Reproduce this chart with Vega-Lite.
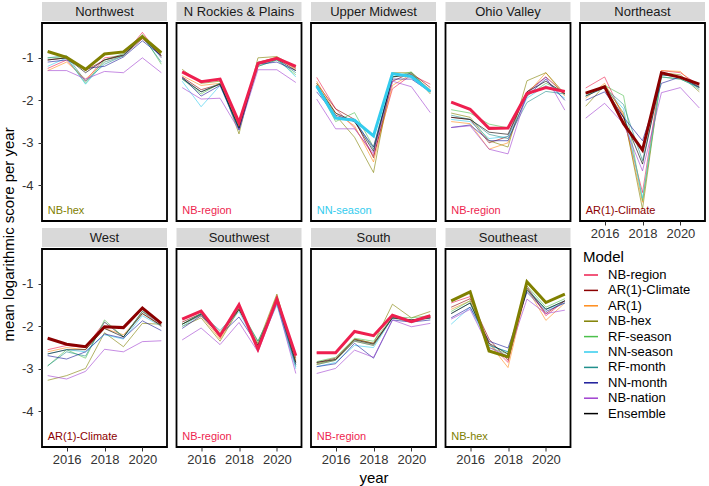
{
"$schema":"https://vega.github.io/schema/vega-lite/v6.json",
"padding":{"left":1,"top":2,"right":0,"bottom":0},
"background":"white",
"datasets":{"d":[
{"region":"Northwest","model":"NB-region","year":2015,"score":-1.25},{"region":"Northwest","model":"NB-region","year":2016,"score":-1.05},{"region":"Northwest","model":"NB-region","year":2017,"score":-1.55},{"region":"Northwest","model":"NB-region","year":2018,"score":-1.0},{"region":"Northwest","model":"NB-region","year":2019,"score":-0.95},{"region":"Northwest","model":"NB-region","year":2020,"score":-0.4},{"region":"Northwest","model":"NB-region","year":2021,"score":-1.0},
{"region":"Northwest","model":"AR(1)-Climate","year":2015,"score":-1.05},{"region":"Northwest","model":"AR(1)-Climate","year":2016,"score":-1.0},{"region":"Northwest","model":"AR(1)-Climate","year":2017,"score":-1.3},{"region":"Northwest","model":"AR(1)-Climate","year":2018,"score":-1.05},{"region":"Northwest","model":"AR(1)-Climate","year":2019,"score":-0.95},{"region":"Northwest","model":"AR(1)-Climate","year":2020,"score":-0.55},{"region":"Northwest","model":"AR(1)-Climate","year":2021,"score":-0.95},
{"region":"Northwest","model":"AR(1)","year":2015,"score":-1.3},{"region":"Northwest","model":"AR(1)","year":2016,"score":-1.1},{"region":"Northwest","model":"AR(1)","year":2017,"score":-1.5},{"region":"Northwest","model":"AR(1)","year":2018,"score":-1.1},{"region":"Northwest","model":"AR(1)","year":2019,"score":-0.95},{"region":"Northwest","model":"AR(1)","year":2020,"score":-0.5},{"region":"Northwest","model":"AR(1)","year":2021,"score":-0.95},
{"region":"Northwest","model":"NB-hex","year":2015,"score":-0.85},{"region":"Northwest","model":"NB-hex","year":2016,"score":-0.99},{"region":"Northwest","model":"NB-hex","year":2017,"score":-1.27},{"region":"Northwest","model":"NB-hex","year":2018,"score":-0.91},{"region":"Northwest","model":"NB-hex","year":2019,"score":-0.86},{"region":"Northwest","model":"NB-hex","year":2020,"score":-0.5},{"region":"Northwest","model":"NB-hex","year":2021,"score":-0.88},
{"region":"Northwest","model":"RF-season","year":2015,"score":-1.0},{"region":"Northwest","model":"RF-season","year":2016,"score":-1.0},{"region":"Northwest","model":"RF-season","year":2017,"score":-1.6},{"region":"Northwest","model":"RF-season","year":2018,"score":-1.05},{"region":"Northwest","model":"RF-season","year":2019,"score":-0.9},{"region":"Northwest","model":"RF-season","year":2020,"score":-0.45},{"region":"Northwest","model":"RF-season","year":2021,"score":-1.15},
{"region":"Northwest","model":"NN-season","year":2015,"score":-1.2},{"region":"Northwest","model":"NN-season","year":2016,"score":-1.0},{"region":"Northwest","model":"NN-season","year":2017,"score":-1.62},{"region":"Northwest","model":"NN-season","year":2018,"score":-1.1},{"region":"Northwest","model":"NN-season","year":2019,"score":-0.95},{"region":"Northwest","model":"NN-season","year":2020,"score":-0.5},{"region":"Northwest","model":"NN-season","year":2021,"score":-1.0},
{"region":"Northwest","model":"RF-month","year":2015,"score":-1.0},{"region":"Northwest","model":"RF-month","year":2016,"score":-0.95},{"region":"Northwest","model":"RF-month","year":2017,"score":-1.55},{"region":"Northwest","model":"RF-month","year":2018,"score":-1.15},{"region":"Northwest","model":"RF-month","year":2019,"score":-0.95},{"region":"Northwest","model":"RF-month","year":2020,"score":-0.5},{"region":"Northwest","model":"RF-month","year":2021,"score":-1.1},
{"region":"Northwest","model":"NN-month","year":2015,"score":-1.1},{"region":"Northwest","model":"NN-month","year":2016,"score":-1.05},{"region":"Northwest","model":"NN-month","year":2017,"score":-1.25},{"region":"Northwest","model":"NN-month","year":2018,"score":-1.2},{"region":"Northwest","model":"NN-month","year":2019,"score":-0.98},{"region":"Northwest","model":"NN-month","year":2020,"score":-0.6},{"region":"Northwest","model":"NN-month","year":2021,"score":-0.95},
{"region":"Northwest","model":"NB-nation","year":2015,"score":-1.3},{"region":"Northwest","model":"NB-nation","year":2016,"score":-1.3},{"region":"Northwest","model":"NB-nation","year":2017,"score":-1.5},{"region":"Northwest","model":"NB-nation","year":2018,"score":-1.32},{"region":"Northwest","model":"NB-nation","year":2019,"score":-1.35},{"region":"Northwest","model":"NB-nation","year":2020,"score":-1.0},{"region":"Northwest","model":"NB-nation","year":2021,"score":-1.35},
{"region":"Northwest","model":"Ensemble","year":2015,"score":-1.05},{"region":"Northwest","model":"Ensemble","year":2016,"score":-1.0},{"region":"Northwest","model":"Ensemble","year":2017,"score":-1.35},{"region":"Northwest","model":"Ensemble","year":2018,"score":-1.05},{"region":"Northwest","model":"Ensemble","year":2019,"score":-0.93},{"region":"Northwest","model":"Ensemble","year":2020,"score":-0.52},{"region":"Northwest","model":"Ensemble","year":2021,"score":-0.95},
{"region":"N Rockies & Plains","model":"NB-region","year":2015,"score":-1.33},{"region":"N Rockies & Plains","model":"NB-region","year":2016,"score":-1.56},{"region":"N Rockies & Plains","model":"NB-region","year":2017,"score":-1.5},{"region":"N Rockies & Plains","model":"NB-region","year":2018,"score":-2.52},{"region":"N Rockies & Plains","model":"NB-region","year":2019,"score":-1.13},{"region":"N Rockies & Plains","model":"NB-region","year":2020,"score":-1.01},{"region":"N Rockies & Plains","model":"NB-region","year":2021,"score":-1.2},
{"region":"N Rockies & Plains","model":"AR(1)-Climate","year":2015,"score":-1.45},{"region":"N Rockies & Plains","model":"AR(1)-Climate","year":2016,"score":-1.75},{"region":"N Rockies & Plains","model":"AR(1)-Climate","year":2017,"score":-1.62},{"region":"N Rockies & Plains","model":"AR(1)-Climate","year":2018,"score":-2.6},{"region":"N Rockies & Plains","model":"AR(1)-Climate","year":2019,"score":-1.1},{"region":"N Rockies & Plains","model":"AR(1)-Climate","year":2020,"score":-1.0},{"region":"N Rockies & Plains","model":"AR(1)-Climate","year":2021,"score":-1.25},
{"region":"N Rockies & Plains","model":"AR(1)","year":2015,"score":-1.42},{"region":"N Rockies & Plains","model":"AR(1)","year":2016,"score":-1.65},{"region":"N Rockies & Plains","model":"AR(1)","year":2017,"score":-1.6},{"region":"N Rockies & Plains","model":"AR(1)","year":2018,"score":-2.62},{"region":"N Rockies & Plains","model":"AR(1)","year":2019,"score":-1.12},{"region":"N Rockies & Plains","model":"AR(1)","year":2020,"score":-0.98},{"region":"N Rockies & Plains","model":"AR(1)","year":2021,"score":-1.28},
{"region":"N Rockies & Plains","model":"NB-hex","year":2015,"score":-1.27},{"region":"N Rockies & Plains","model":"NB-hex","year":2016,"score":-1.6},{"region":"N Rockies & Plains","model":"NB-hex","year":2017,"score":-1.55},{"region":"N Rockies & Plains","model":"NB-hex","year":2018,"score":-2.79},{"region":"N Rockies & Plains","model":"NB-hex","year":2019,"score":-1.0},{"region":"N Rockies & Plains","model":"NB-hex","year":2020,"score":-0.97},{"region":"N Rockies & Plains","model":"NB-hex","year":2021,"score":-1.22},
{"region":"N Rockies & Plains","model":"RF-season","year":2015,"score":-1.5},{"region":"N Rockies & Plains","model":"RF-season","year":2016,"score":-1.85},{"region":"N Rockies & Plains","model":"RF-season","year":2017,"score":-1.6},{"region":"N Rockies & Plains","model":"RF-season","year":2018,"score":-2.65},{"region":"N Rockies & Plains","model":"RF-season","year":2019,"score":-1.2},{"region":"N Rockies & Plains","model":"RF-season","year":2020,"score":-1.05},{"region":"N Rockies & Plains","model":"RF-season","year":2021,"score":-1.4},
{"region":"N Rockies & Plains","model":"NN-season","year":2015,"score":-1.55},{"region":"N Rockies & Plains","model":"NN-season","year":2016,"score":-2.15},{"region":"N Rockies & Plains","model":"NN-season","year":2017,"score":-1.65},{"region":"N Rockies & Plains","model":"NN-season","year":2018,"score":-2.7},{"region":"N Rockies & Plains","model":"NN-season","year":2019,"score":-1.15},{"region":"N Rockies & Plains","model":"NN-season","year":2020,"score":-1.0},{"region":"N Rockies & Plains","model":"NN-season","year":2021,"score":-1.45},
{"region":"N Rockies & Plains","model":"RF-month","year":2015,"score":-1.5},{"region":"N Rockies & Plains","model":"RF-month","year":2016,"score":-1.8},{"region":"N Rockies & Plains","model":"RF-month","year":2017,"score":-1.6},{"region":"N Rockies & Plains","model":"RF-month","year":2018,"score":-2.7},{"region":"N Rockies & Plains","model":"RF-month","year":2019,"score":-1.2},{"region":"N Rockies & Plains","model":"RF-month","year":2020,"score":-1.05},{"region":"N Rockies & Plains","model":"RF-month","year":2021,"score":-1.35},
{"region":"N Rockies & Plains","model":"NN-month","year":2015,"score":-1.45},{"region":"N Rockies & Plains","model":"NN-month","year":2016,"score":-1.9},{"region":"N Rockies & Plains","model":"NN-month","year":2017,"score":-1.65},{"region":"N Rockies & Plains","model":"NN-month","year":2018,"score":-2.68},{"region":"N Rockies & Plains","model":"NN-month","year":2019,"score":-1.15},{"region":"N Rockies & Plains","model":"NN-month","year":2020,"score":-1.1},{"region":"N Rockies & Plains","model":"NN-month","year":2021,"score":-1.3},
{"region":"N Rockies & Plains","model":"NB-nation","year":2015,"score":-1.7},{"region":"N Rockies & Plains","model":"NB-nation","year":2016,"score":-1.97},{"region":"N Rockies & Plains","model":"NB-nation","year":2017,"score":-1.95},{"region":"N Rockies & Plains","model":"NB-nation","year":2018,"score":-2.7},{"region":"N Rockies & Plains","model":"NB-nation","year":2019,"score":-1.28},{"region":"N Rockies & Plains","model":"NB-nation","year":2020,"score":-1.28},{"region":"N Rockies & Plains","model":"NB-nation","year":2021,"score":-1.58},
{"region":"N Rockies & Plains","model":"Ensemble","year":2015,"score":-1.48},{"region":"N Rockies & Plains","model":"Ensemble","year":2016,"score":-1.8},{"region":"N Rockies & Plains","model":"Ensemble","year":2017,"score":-1.62},{"region":"N Rockies & Plains","model":"Ensemble","year":2018,"score":-2.65},{"region":"N Rockies & Plains","model":"Ensemble","year":2019,"score":-1.15},{"region":"N Rockies & Plains","model":"Ensemble","year":2020,"score":-1.03},{"region":"N Rockies & Plains","model":"Ensemble","year":2021,"score":-1.3},
{"region":"Upper Midwest","model":"NB-region","year":2015,"score":-1.46},{"region":"Upper Midwest","model":"NB-region","year":2016,"score":-2.2},{"region":"Upper Midwest","model":"NB-region","year":2017,"score":-2.65},{"region":"Upper Midwest","model":"NB-region","year":2018,"score":-3.3},{"region":"Upper Midwest","model":"NB-region","year":2019,"score":-1.73},{"region":"Upper Midwest","model":"NB-region","year":2020,"score":-1.4},{"region":"Upper Midwest","model":"NB-region","year":2021,"score":-1.62},
{"region":"Upper Midwest","model":"AR(1)-Climate","year":2015,"score":-1.6},{"region":"Upper Midwest","model":"AR(1)-Climate","year":2016,"score":-2.2},{"region":"Upper Midwest","model":"AR(1)-Climate","year":2017,"score":-2.45},{"region":"Upper Midwest","model":"AR(1)-Climate","year":2018,"score":-3.35},{"region":"Upper Midwest","model":"AR(1)-Climate","year":2019,"score":-1.55},{"region":"Upper Midwest","model":"AR(1)-Climate","year":2020,"score":-1.35},{"region":"Upper Midwest","model":"AR(1)-Climate","year":2021,"score":-1.7},
{"region":"Upper Midwest","model":"AR(1)","year":2015,"score":-1.55},{"region":"Upper Midwest","model":"AR(1)","year":2016,"score":-2.3},{"region":"Upper Midwest","model":"AR(1)","year":2017,"score":-2.6},{"region":"Upper Midwest","model":"AR(1)","year":2018,"score":-3.45},{"region":"Upper Midwest","model":"AR(1)","year":2019,"score":-1.65},{"region":"Upper Midwest","model":"AR(1)","year":2020,"score":-1.38},{"region":"Upper Midwest","model":"AR(1)","year":2021,"score":-1.75},
{"region":"Upper Midwest","model":"NB-hex","year":2015,"score":-1.6},{"region":"Upper Midwest","model":"NB-hex","year":2016,"score":-2.35},{"region":"Upper Midwest","model":"NB-hex","year":2017,"score":-2.87},{"region":"Upper Midwest","model":"NB-hex","year":2018,"score":-3.7},{"region":"Upper Midwest","model":"NB-hex","year":2019,"score":-1.35},{"region":"Upper Midwest","model":"NB-hex","year":2020,"score":-1.35},{"region":"Upper Midwest","model":"NB-hex","year":2021,"score":-1.85},
{"region":"Upper Midwest","model":"RF-season","year":2015,"score":-1.65},{"region":"Upper Midwest","model":"RF-season","year":2016,"score":-2.5},{"region":"Upper Midwest","model":"RF-season","year":2017,"score":-2.29},{"region":"Upper Midwest","model":"RF-season","year":2018,"score":-3.1},{"region":"Upper Midwest","model":"RF-season","year":2019,"score":-1.45},{"region":"Upper Midwest","model":"RF-season","year":2020,"score":-1.33},{"region":"Upper Midwest","model":"RF-season","year":2021,"score":-1.8},
{"region":"Upper Midwest","model":"NN-season","year":2015,"score":-1.66},{"region":"Upper Midwest","model":"NN-season","year":2016,"score":-2.42},{"region":"Upper Midwest","model":"NN-season","year":2017,"score":-2.47},{"region":"Upper Midwest","model":"NN-season","year":2018,"score":-2.84},{"region":"Upper Midwest","model":"NN-season","year":2019,"score":-1.37},{"region":"Upper Midwest","model":"NN-season","year":2020,"score":-1.44},{"region":"Upper Midwest","model":"NN-season","year":2021,"score":-1.79},
{"region":"Upper Midwest","model":"RF-month","year":2015,"score":-1.7},{"region":"Upper Midwest","model":"RF-month","year":2016,"score":-2.4},{"region":"Upper Midwest","model":"RF-month","year":2017,"score":-2.45},{"region":"Upper Midwest","model":"RF-month","year":2018,"score":-3.15},{"region":"Upper Midwest","model":"RF-month","year":2019,"score":-1.45},{"region":"Upper Midwest","model":"RF-month","year":2020,"score":-1.36},{"region":"Upper Midwest","model":"RF-month","year":2021,"score":-1.8},
{"region":"Upper Midwest","model":"NN-month","year":2015,"score":-1.8},{"region":"Upper Midwest","model":"NN-month","year":2016,"score":-2.35},{"region":"Upper Midwest","model":"NN-month","year":2017,"score":-2.5},{"region":"Upper Midwest","model":"NN-month","year":2018,"score":-3.1},{"region":"Upper Midwest","model":"NN-month","year":2019,"score":-1.5},{"region":"Upper Midwest","model":"NN-month","year":2020,"score":-1.5},{"region":"Upper Midwest","model":"NN-month","year":2021,"score":-1.8},
{"region":"Upper Midwest","model":"NB-nation","year":2015,"score":-1.97},{"region":"Upper Midwest","model":"NB-nation","year":2016,"score":-2.67},{"region":"Upper Midwest","model":"NB-nation","year":2017,"score":-2.67},{"region":"Upper Midwest","model":"NB-nation","year":2018,"score":-3.25},{"region":"Upper Midwest","model":"NB-nation","year":2019,"score":-1.55},{"region":"Upper Midwest","model":"NB-nation","year":2020,"score":-1.68},{"region":"Upper Midwest","model":"NB-nation","year":2021,"score":-2.29},
{"region":"Upper Midwest","model":"Ensemble","year":2015,"score":-1.65},{"region":"Upper Midwest","model":"Ensemble","year":2016,"score":-2.3},{"region":"Upper Midwest","model":"Ensemble","year":2017,"score":-2.5},{"region":"Upper Midwest","model":"Ensemble","year":2018,"score":-3.2},{"region":"Upper Midwest","model":"Ensemble","year":2019,"score":-1.45},{"region":"Upper Midwest","model":"Ensemble","year":2020,"score":-1.4},{"region":"Upper Midwest","model":"Ensemble","year":2021,"score":-1.78},
{"region":"Ohio Valley","model":"NB-region","year":2015,"score":-2.04},{"region":"Ohio Valley","model":"NB-region","year":2016,"score":-2.21},{"region":"Ohio Valley","model":"NB-region","year":2017,"score":-2.66},{"region":"Ohio Valley","model":"NB-region","year":2018,"score":-2.65},{"region":"Ohio Valley","model":"NB-region","year":2019,"score":-1.84},{"region":"Ohio Valley","model":"NB-region","year":2020,"score":-1.7},{"region":"Ohio Valley","model":"NB-region","year":2021,"score":-1.79},
{"region":"Ohio Valley","model":"AR(1)-Climate","year":2015,"score":-2.4},{"region":"Ohio Valley","model":"AR(1)-Climate","year":2016,"score":-2.45},{"region":"Ohio Valley","model":"AR(1)-Climate","year":2017,"score":-3.0},{"region":"Ohio Valley","model":"AR(1)-Climate","year":2018,"score":-2.85},{"region":"Ohio Valley","model":"AR(1)-Climate","year":2019,"score":-1.8},{"region":"Ohio Valley","model":"AR(1)-Climate","year":2020,"score":-1.45},{"region":"Ohio Valley","model":"AR(1)-Climate","year":2021,"score":-1.85},
{"region":"Ohio Valley","model":"AR(1)","year":2015,"score":-2.5},{"region":"Ohio Valley","model":"AR(1)","year":2016,"score":-2.55},{"region":"Ohio Valley","model":"AR(1)","year":2017,"score":-3.15},{"region":"Ohio Valley","model":"AR(1)","year":2018,"score":-3.0},{"region":"Ohio Valley","model":"AR(1)","year":2019,"score":-1.85},{"region":"Ohio Valley","model":"AR(1)","year":2020,"score":-1.35},{"region":"Ohio Valley","model":"AR(1)","year":2021,"score":-1.9},
{"region":"Ohio Valley","model":"NB-hex","year":2015,"score":-2.3},{"region":"Ohio Valley","model":"NB-hex","year":2016,"score":-2.4},{"region":"Ohio Valley","model":"NB-hex","year":2017,"score":-2.95},{"region":"Ohio Valley","model":"NB-hex","year":2018,"score":-3.1},{"region":"Ohio Valley","model":"NB-hex","year":2019,"score":-1.54},{"region":"Ohio Valley","model":"NB-hex","year":2020,"score":-1.35},{"region":"Ohio Valley","model":"NB-hex","year":2021,"score":-1.85},
{"region":"Ohio Valley","model":"RF-season","year":2015,"score":-2.22},{"region":"Ohio Valley","model":"RF-season","year":2016,"score":-2.3},{"region":"Ohio Valley","model":"RF-season","year":2017,"score":-2.56},{"region":"Ohio Valley","model":"RF-season","year":2018,"score":-2.65},{"region":"Ohio Valley","model":"RF-season","year":2019,"score":-1.9},{"region":"Ohio Valley","model":"RF-season","year":2020,"score":-1.6},{"region":"Ohio Valley","model":"RF-season","year":2021,"score":-1.8},
{"region":"Ohio Valley","model":"NN-season","year":2015,"score":-2.45},{"region":"Ohio Valley","model":"NN-season","year":2016,"score":-2.5},{"region":"Ohio Valley","model":"NN-season","year":2017,"score":-2.9},{"region":"Ohio Valley","model":"NN-season","year":2018,"score":-2.85},{"region":"Ohio Valley","model":"NN-season","year":2019,"score":-1.95},{"region":"Ohio Valley","model":"NN-season","year":2020,"score":-1.65},{"region":"Ohio Valley","model":"NN-season","year":2021,"score":-1.95},
{"region":"Ohio Valley","model":"RF-month","year":2015,"score":-2.35},{"region":"Ohio Valley","model":"RF-month","year":2016,"score":-2.45},{"region":"Ohio Valley","model":"RF-month","year":2017,"score":-2.8},{"region":"Ohio Valley","model":"RF-month","year":2018,"score":-2.9},{"region":"Ohio Valley","model":"RF-month","year":2019,"score":-2.05},{"region":"Ohio Valley","model":"RF-month","year":2020,"score":-1.79},{"region":"Ohio Valley","model":"RF-month","year":2021,"score":-1.85},
{"region":"Ohio Valley","model":"NN-month","year":2015,"score":-2.64},{"region":"Ohio Valley","model":"NN-month","year":2016,"score":-2.58},{"region":"Ohio Valley","model":"NN-month","year":2017,"score":-2.95},{"region":"Ohio Valley","model":"NN-month","year":2018,"score":-2.95},{"region":"Ohio Valley","model":"NN-month","year":2019,"score":-1.9},{"region":"Ohio Valley","model":"NN-month","year":2020,"score":-1.5},{"region":"Ohio Valley","model":"NN-month","year":2021,"score":-2.0},
{"region":"Ohio Valley","model":"NB-nation","year":2015,"score":-2.64},{"region":"Ohio Valley","model":"NB-nation","year":2016,"score":-2.6},{"region":"Ohio Valley","model":"NB-nation","year":2017,"score":-3.15},{"region":"Ohio Valley","model":"NB-nation","year":2018,"score":-3.26},{"region":"Ohio Valley","model":"NB-nation","year":2019,"score":-1.85},{"region":"Ohio Valley","model":"NB-nation","year":2020,"score":-1.45},{"region":"Ohio Valley","model":"NB-nation","year":2021,"score":-2.23},
{"region":"Ohio Valley","model":"Ensemble","year":2015,"score":-2.4},{"region":"Ohio Valley","model":"Ensemble","year":2016,"score":-2.45},{"region":"Ohio Valley","model":"Ensemble","year":2017,"score":-2.75},{"region":"Ohio Valley","model":"Ensemble","year":2018,"score":-2.8},{"region":"Ohio Valley","model":"Ensemble","year":2019,"score":-1.8},{"region":"Ohio Valley","model":"Ensemble","year":2020,"score":-1.55},{"region":"Ohio Valley","model":"Ensemble","year":2021,"score":-1.85},
{"region":"Northeast","model":"NB-region","year":2015,"score":-1.71},{"region":"Northeast","model":"NB-region","year":2016,"score":-1.45},{"region":"Northeast","model":"NB-region","year":2017,"score":-2.4},{"region":"Northeast","model":"NB-region","year":2018,"score":-4.17},{"region":"Northeast","model":"NB-region","year":2019,"score":-1.3},{"region":"Northeast","model":"NB-region","year":2020,"score":-1.35},{"region":"Northeast","model":"NB-region","year":2021,"score":-1.65},
{"region":"Northeast","model":"AR(1)-Climate","year":2015,"score":-1.83},{"region":"Northeast","model":"AR(1)-Climate","year":2016,"score":-1.68},{"region":"Northeast","model":"AR(1)-Climate","year":2017,"score":-2.55},{"region":"Northeast","model":"AR(1)-Climate","year":2018,"score":-3.17},{"region":"Northeast","model":"AR(1)-Climate","year":2019,"score":-1.35},{"region":"Northeast","model":"AR(1)-Climate","year":2020,"score":-1.46},{"region":"Northeast","model":"AR(1)-Climate","year":2021,"score":-1.62},
{"region":"Northeast","model":"AR(1)","year":2015,"score":-1.95},{"region":"Northeast","model":"AR(1)","year":2016,"score":-1.6},{"region":"Northeast","model":"AR(1)","year":2017,"score":-2.35},{"region":"Northeast","model":"AR(1)","year":2018,"score":-4.4},{"region":"Northeast","model":"AR(1)","year":2019,"score":-1.3},{"region":"Northeast","model":"AR(1)","year":2020,"score":-1.32},{"region":"Northeast","model":"AR(1)","year":2021,"score":-1.75},
{"region":"Northeast","model":"NB-hex","year":2015,"score":-2.14},{"region":"Northeast","model":"NB-hex","year":2016,"score":-1.65},{"region":"Northeast","model":"NB-hex","year":2017,"score":-2.3},{"region":"Northeast","model":"NB-hex","year":2018,"score":-4.56},{"region":"Northeast","model":"NB-hex","year":2019,"score":-1.35},{"region":"Northeast","model":"NB-hex","year":2020,"score":-1.4},{"region":"Northeast","model":"NB-hex","year":2021,"score":-1.8},
{"region":"Northeast","model":"RF-season","year":2015,"score":-1.9},{"region":"Northeast","model":"RF-season","year":2016,"score":-1.65},{"region":"Northeast","model":"RF-season","year":2017,"score":-1.89},{"region":"Northeast","model":"RF-season","year":2018,"score":-4.36},{"region":"Northeast","model":"RF-season","year":2019,"score":-1.45},{"region":"Northeast","model":"RF-season","year":2020,"score":-1.5},{"region":"Northeast","model":"RF-season","year":2021,"score":-1.7},
{"region":"Northeast","model":"NN-season","year":2015,"score":-1.9},{"region":"Northeast","model":"NN-season","year":2016,"score":-1.7},{"region":"Northeast","model":"NN-season","year":2017,"score":-2.2},{"region":"Northeast","model":"NN-season","year":2018,"score":-4.3},{"region":"Northeast","model":"NN-season","year":2019,"score":-1.4},{"region":"Northeast","model":"NN-season","year":2020,"score":-1.45},{"region":"Northeast","model":"NN-season","year":2021,"score":-1.75},
{"region":"Northeast","model":"RF-month","year":2015,"score":-1.85},{"region":"Northeast","model":"RF-month","year":2016,"score":-1.7},{"region":"Northeast","model":"RF-month","year":2017,"score":-2.1},{"region":"Northeast","model":"RF-month","year":2018,"score":-3.42},{"region":"Northeast","model":"RF-month","year":2019,"score":-1.45},{"region":"Northeast","model":"RF-month","year":2020,"score":-1.5},{"region":"Northeast","model":"RF-month","year":2021,"score":-1.7},
{"region":"Northeast","model":"NN-month","year":2015,"score":-2.0},{"region":"Northeast","model":"NN-month","year":2016,"score":-1.8},{"region":"Northeast","model":"NN-month","year":2017,"score":-2.4},{"region":"Northeast","model":"NN-month","year":2018,"score":-2.95},{"region":"Northeast","model":"NN-month","year":2019,"score":-1.6},{"region":"Northeast","model":"NN-month","year":2020,"score":-1.45},{"region":"Northeast","model":"NN-month","year":2021,"score":-1.7},
{"region":"Northeast","model":"NB-nation","year":2015,"score":-2.42},{"region":"Northeast","model":"NB-nation","year":2016,"score":-2.07},{"region":"Northeast","model":"NB-nation","year":2017,"score":-2.55},{"region":"Northeast","model":"NB-nation","year":2018,"score":-3.66},{"region":"Northeast","model":"NB-nation","year":2019,"score":-1.82},{"region":"Northeast","model":"NB-nation","year":2020,"score":-1.7},{"region":"Northeast","model":"NB-nation","year":2021,"score":-2.18},
{"region":"Northeast","model":"Ensemble","year":2015,"score":-1.9},{"region":"Northeast","model":"Ensemble","year":2016,"score":-1.7},{"region":"Northeast","model":"Ensemble","year":2017,"score":-2.4},{"region":"Northeast","model":"Ensemble","year":2018,"score":-3.5},{"region":"Northeast","model":"Ensemble","year":2019,"score":-1.4},{"region":"Northeast","model":"Ensemble","year":2020,"score":-1.45},{"region":"Northeast","model":"Ensemble","year":2021,"score":-1.68},
{"region":"West","model":"NB-region","year":2015,"score":-2.55},{"region":"West","model":"NB-region","year":2016,"score":-2.45},{"region":"West","model":"NB-region","year":2017,"score":-2.5},{"region":"West","model":"NB-region","year":2018,"score":-1.9},{"region":"West","model":"NB-region","year":2019,"score":-2.25},{"region":"West","model":"NB-region","year":2020,"score":-1.65},{"region":"West","model":"NB-region","year":2021,"score":-2.0},
{"region":"West","model":"AR(1)-Climate","year":2015,"score":-2.28},{"region":"West","model":"AR(1)-Climate","year":2016,"score":-2.42},{"region":"West","model":"AR(1)-Climate","year":2017,"score":-2.48},{"region":"West","model":"AR(1)-Climate","year":2018,"score":-2.01},{"region":"West","model":"AR(1)-Climate","year":2019,"score":-2.03},{"region":"West","model":"AR(1)-Climate","year":2020,"score":-1.57},{"region":"West","model":"AR(1)-Climate","year":2021,"score":-1.93},
{"region":"West","model":"AR(1)","year":2015,"score":-2.6},{"region":"West","model":"AR(1)","year":2016,"score":-2.5},{"region":"West","model":"AR(1)","year":2017,"score":-2.55},{"region":"West","model":"AR(1)","year":2018,"score":-2.05},{"region":"West","model":"AR(1)","year":2019,"score":-2.2},{"region":"West","model":"AR(1)","year":2020,"score":-1.7},{"region":"West","model":"AR(1)","year":2021,"score":-2.0},
{"region":"West","model":"NB-hex","year":2015,"score":-3.27},{"region":"West","model":"NB-hex","year":2016,"score":-3.16},{"region":"West","model":"NB-hex","year":2017,"score":-2.99},{"region":"West","model":"NB-hex","year":2018,"score":-2.15},{"region":"West","model":"NB-hex","year":2019,"score":-2.48},{"region":"West","model":"NB-hex","year":2020,"score":-1.93},{"region":"West","model":"NB-hex","year":2021,"score":-1.95},
{"region":"West","model":"RF-season","year":2015,"score":-2.93},{"region":"West","model":"RF-season","year":2016,"score":-2.55},{"region":"West","model":"RF-season","year":2017,"score":-2.75},{"region":"West","model":"RF-season","year":2018,"score":-1.85},{"region":"West","model":"RF-season","year":2019,"score":-2.25},{"region":"West","model":"RF-season","year":2020,"score":-1.65},{"region":"West","model":"RF-season","year":2021,"score":-1.9},
{"region":"West","model":"NN-season","year":2015,"score":-2.65},{"region":"West","model":"NN-season","year":2016,"score":-2.55},{"region":"West","model":"NN-season","year":2017,"score":-2.6},{"region":"West","model":"NN-season","year":2018,"score":-2.2},{"region":"West","model":"NN-season","year":2019,"score":-2.3},{"region":"West","model":"NN-season","year":2020,"score":-1.75},{"region":"West","model":"NN-season","year":2021,"score":-2.0},
{"region":"West","model":"RF-month","year":2015,"score":-2.93},{"region":"West","model":"RF-month","year":2016,"score":-2.6},{"region":"West","model":"RF-month","year":2017,"score":-2.7},{"region":"West","model":"RF-month","year":2018,"score":-1.9},{"region":"West","model":"RF-month","year":2019,"score":-2.25},{"region":"West","model":"RF-month","year":2020,"score":-1.65},{"region":"West","model":"RF-month","year":2021,"score":-1.95},
{"region":"West","model":"NN-month","year":2015,"score":-2.69},{"region":"West","model":"NN-month","year":2016,"score":-2.77},{"region":"West","model":"NN-month","year":2017,"score":-2.6},{"region":"West","model":"NN-month","year":2018,"score":-2.18},{"region":"West","model":"NN-month","year":2019,"score":-2.28},{"region":"West","model":"NN-month","year":2020,"score":-1.87},{"region":"West","model":"NN-month","year":2021,"score":-2.1},
{"region":"West","model":"NB-nation","year":2015,"score":-3.16},{"region":"West","model":"NB-nation","year":2016,"score":-3.24},{"region":"West","model":"NB-nation","year":2017,"score":-3.06},{"region":"West","model":"NB-nation","year":2018,"score":-2.54},{"region":"West","model":"NB-nation","year":2019,"score":-2.6},{"region":"West","model":"NB-nation","year":2020,"score":-2.36},{"region":"West","model":"NB-nation","year":2021,"score":-2.34},
{"region":"West","model":"Ensemble","year":2015,"score":-2.65},{"region":"West","model":"Ensemble","year":2016,"score":-2.55},{"region":"West","model":"Ensemble","year":2017,"score":-2.55},{"region":"West","model":"Ensemble","year":2018,"score":-2.05},{"region":"West","model":"Ensemble","year":2019,"score":-2.25},{"region":"West","model":"Ensemble","year":2020,"score":-1.7},{"region":"West","model":"Ensemble","year":2021,"score":-1.98},
{"region":"Southwest","model":"NB-region","year":2015,"score":-1.83},{"region":"Southwest","model":"NB-region","year":2016,"score":-1.64},{"region":"Southwest","model":"NB-region","year":2017,"score":-2.22},{"region":"Southwest","model":"NB-region","year":2018,"score":-1.49},{"region":"Southwest","model":"NB-region","year":2019,"score":-2.54},{"region":"Southwest","model":"NB-region","year":2020,"score":-1.36},{"region":"Southwest","model":"NB-region","year":2021,"score":-2.69},
{"region":"Southwest","model":"AR(1)-Climate","year":2015,"score":-1.9},{"region":"Southwest","model":"AR(1)-Climate","year":2016,"score":-1.7},{"region":"Southwest","model":"AR(1)-Climate","year":2017,"score":-2.25},{"region":"Southwest","model":"AR(1)-Climate","year":2018,"score":-1.55},{"region":"Southwest","model":"AR(1)-Climate","year":2019,"score":-2.5},{"region":"Southwest","model":"AR(1)-Climate","year":2020,"score":-1.3},{"region":"Southwest","model":"AR(1)-Climate","year":2021,"score":-2.75},
{"region":"Southwest","model":"AR(1)","year":2015,"score":-1.95},{"region":"Southwest","model":"AR(1)","year":2016,"score":-1.75},{"region":"Southwest","model":"AR(1)","year":2017,"score":-2.3},{"region":"Southwest","model":"AR(1)","year":2018,"score":-1.6},{"region":"Southwest","model":"AR(1)","year":2019,"score":-2.45},{"region":"Southwest","model":"AR(1)","year":2020,"score":-1.28},{"region":"Southwest","model":"AR(1)","year":2021,"score":-2.8},
{"region":"Southwest","model":"NB-hex","year":2015,"score":-2.0},{"region":"Southwest","model":"NB-hex","year":2016,"score":-1.8},{"region":"Southwest","model":"NB-hex","year":2017,"score":-2.35},{"region":"Southwest","model":"NB-hex","year":2018,"score":-1.6},{"region":"Southwest","model":"NB-hex","year":2019,"score":-2.4},{"region":"Southwest","model":"NB-hex","year":2020,"score":-1.24},{"region":"Southwest","model":"NB-hex","year":2021,"score":-2.85},
{"region":"Southwest","model":"RF-season","year":2015,"score":-1.95},{"region":"Southwest","model":"RF-season","year":2016,"score":-1.7},{"region":"Southwest","model":"RF-season","year":2017,"score":-2.15},{"region":"Southwest","model":"RF-season","year":2018,"score":-1.55},{"region":"Southwest","model":"RF-season","year":2019,"score":-2.35},{"region":"Southwest","model":"RF-season","year":2020,"score":-1.45},{"region":"Southwest","model":"RF-season","year":2021,"score":-2.9},
{"region":"Southwest","model":"NN-season","year":2015,"score":-2.0},{"region":"Southwest","model":"NN-season","year":2016,"score":-1.72},{"region":"Southwest","model":"NN-season","year":2017,"score":-2.2},{"region":"Southwest","model":"NN-season","year":2018,"score":-1.65},{"region":"Southwest","model":"NN-season","year":2019,"score":-2.5},{"region":"Southwest","model":"NN-season","year":2020,"score":-1.5},{"region":"Southwest","model":"NN-season","year":2021,"score":-3.0},
{"region":"Southwest","model":"RF-month","year":2015,"score":-1.95},{"region":"Southwest","model":"RF-month","year":2016,"score":-1.7},{"region":"Southwest","model":"RF-month","year":2017,"score":-2.1},{"region":"Southwest","model":"RF-month","year":2018,"score":-1.6},{"region":"Southwest","model":"RF-month","year":2019,"score":-2.35},{"region":"Southwest","model":"RF-month","year":2020,"score":-1.45},{"region":"Southwest","model":"RF-month","year":2021,"score":-2.95},
{"region":"Southwest","model":"NN-month","year":2015,"score":-2.05},{"region":"Southwest","model":"NN-month","year":2016,"score":-1.75},{"region":"Southwest","model":"NN-month","year":2017,"score":-2.2},{"region":"Southwest","model":"NN-month","year":2018,"score":-1.78},{"region":"Southwest","model":"NN-month","year":2019,"score":-2.45},{"region":"Southwest","model":"NN-month","year":2020,"score":-1.4},{"region":"Southwest","model":"NN-month","year":2021,"score":-2.9},
{"region":"Southwest","model":"NB-nation","year":2015,"score":-2.32},{"region":"Southwest","model":"NB-nation","year":2016,"score":-2.04},{"region":"Southwest","model":"NB-nation","year":2017,"score":-2.43},{"region":"Southwest","model":"NB-nation","year":2018,"score":-1.91},{"region":"Southwest","model":"NB-nation","year":2019,"score":-2.6},{"region":"Southwest","model":"NB-nation","year":2020,"score":-1.45},{"region":"Southwest","model":"NB-nation","year":2021,"score":-3.11},
{"region":"Southwest","model":"Ensemble","year":2015,"score":-1.95},{"region":"Southwest","model":"Ensemble","year":2016,"score":-1.72},{"region":"Southwest","model":"Ensemble","year":2017,"score":-2.2},{"region":"Southwest","model":"Ensemble","year":2018,"score":-1.6},{"region":"Southwest","model":"Ensemble","year":2019,"score":-2.45},{"region":"Southwest","model":"Ensemble","year":2020,"score":-1.38},{"region":"Southwest","model":"Ensemble","year":2021,"score":-2.85},
{"region":"South","model":"NB-region","year":2015,"score":-2.62},{"region":"South","model":"NB-region","year":2016,"score":-2.62},{"region":"South","model":"NB-region","year":2017,"score":-2.12},{"region":"South","model":"NB-region","year":2018,"score":-2.22},{"region":"South","model":"NB-region","year":2019,"score":-1.74},{"region":"South","model":"NB-region","year":2020,"score":-1.89},{"region":"South","model":"NB-region","year":2021,"score":-1.75},
{"region":"South","model":"AR(1)-Climate","year":2015,"score":-2.85},{"region":"South","model":"AR(1)-Climate","year":2016,"score":-2.75},{"region":"South","model":"AR(1)-Climate","year":2017,"score":-2.3},{"region":"South","model":"AR(1)-Climate","year":2018,"score":-2.4},{"region":"South","model":"AR(1)-Climate","year":2019,"score":-1.8},{"region":"South","model":"AR(1)-Climate","year":2020,"score":-1.85},{"region":"South","model":"AR(1)-Climate","year":2021,"score":-1.8},
{"region":"South","model":"AR(1)","year":2015,"score":-2.9},{"region":"South","model":"AR(1)","year":2016,"score":-2.8},{"region":"South","model":"AR(1)","year":2017,"score":-2.35},{"region":"South","model":"AR(1)","year":2018,"score":-2.45},{"region":"South","model":"AR(1)","year":2019,"score":-1.8},{"region":"South","model":"AR(1)","year":2020,"score":-1.9},{"region":"South","model":"AR(1)","year":2021,"score":-1.8},
{"region":"South","model":"NB-hex","year":2015,"score":-2.88},{"region":"South","model":"NB-hex","year":2016,"score":-2.78},{"region":"South","model":"NB-hex","year":2017,"score":-2.3},{"region":"South","model":"NB-hex","year":2018,"score":-2.4},{"region":"South","model":"NB-hex","year":2019,"score":-1.48},{"region":"South","model":"NB-hex","year":2020,"score":-1.8},{"region":"South","model":"NB-hex","year":2021,"score":-1.65},
{"region":"South","model":"RF-season","year":2015,"score":-2.83},{"region":"South","model":"RF-season","year":2016,"score":-2.73},{"region":"South","model":"RF-season","year":2017,"score":-2.28},{"region":"South","model":"RF-season","year":2018,"score":-2.35},{"region":"South","model":"RF-season","year":2019,"score":-1.78},{"region":"South","model":"RF-season","year":2020,"score":-1.8},{"region":"South","model":"RF-season","year":2021,"score":-1.75},
{"region":"South","model":"NN-season","year":2015,"score":-2.95},{"region":"South","model":"NN-season","year":2016,"score":-2.85},{"region":"South","model":"NN-season","year":2017,"score":-2.45},{"region":"South","model":"NN-season","year":2018,"score":-2.5},{"region":"South","model":"NN-season","year":2019,"score":-1.8},{"region":"South","model":"NN-season","year":2020,"score":-1.9},{"region":"South","model":"NN-season","year":2021,"score":-1.8},
{"region":"South","model":"RF-month","year":2015,"score":-2.9},{"region":"South","model":"RF-month","year":2016,"score":-2.8},{"region":"South","model":"RF-month","year":2017,"score":-2.35},{"region":"South","model":"RF-month","year":2018,"score":-2.45},{"region":"South","model":"RF-month","year":2019,"score":-1.8},{"region":"South","model":"RF-month","year":2020,"score":-1.85},{"region":"South","model":"RF-month","year":2021,"score":-1.8},
{"region":"South","model":"NN-month","year":2015,"score":-2.95},{"region":"South","model":"NN-month","year":2016,"score":-2.88},{"region":"South","model":"NN-month","year":2017,"score":-2.4},{"region":"South","model":"NN-month","year":2018,"score":-2.75},{"region":"South","model":"NN-month","year":2019,"score":-1.85},{"region":"South","model":"NN-month","year":2020,"score":-1.9},{"region":"South","model":"NN-month","year":2021,"score":-1.85},
{"region":"South","model":"NB-nation","year":2015,"score":-3.11},{"region":"South","model":"NB-nation","year":2016,"score":-2.99},{"region":"South","model":"NB-nation","year":2017,"score":-2.56},{"region":"South","model":"NB-nation","year":2018,"score":-2.73},{"region":"South","model":"NB-nation","year":2019,"score":-1.85},{"region":"South","model":"NB-nation","year":2020,"score":-2.01},{"region":"South","model":"NB-nation","year":2021,"score":-1.93},
{"region":"South","model":"Ensemble","year":2015,"score":-2.85},{"region":"South","model":"Ensemble","year":2016,"score":-2.78},{"region":"South","model":"Ensemble","year":2017,"score":-2.32},{"region":"South","model":"Ensemble","year":2018,"score":-2.42},{"region":"South","model":"Ensemble","year":2019,"score":-1.8},{"region":"South","model":"Ensemble","year":2020,"score":-1.85},{"region":"South","model":"Ensemble","year":2021,"score":-1.8},
{"region":"Southeast","model":"NB-region","year":2015,"score":-1.45},{"region":"Southeast","model":"NB-region","year":2016,"score":-1.3},{"region":"Southeast","model":"NB-region","year":2017,"score":-2.4},{"region":"Southeast","model":"NB-region","year":2018,"score":-2.85},{"region":"Southeast","model":"NB-region","year":2019,"score":-1.05},{"region":"Southeast","model":"NB-region","year":2020,"score":-1.75},{"region":"Southeast","model":"NB-region","year":2021,"score":-1.4},
{"region":"Southeast","model":"AR(1)-Climate","year":2015,"score":-1.55},{"region":"Southeast","model":"AR(1)-Climate","year":2016,"score":-1.35},{"region":"Southeast","model":"AR(1)-Climate","year":2017,"score":-2.3},{"region":"Southeast","model":"AR(1)-Climate","year":2018,"score":-2.8},{"region":"Southeast","model":"AR(1)-Climate","year":2019,"score":-1.1},{"region":"Southeast","model":"AR(1)-Climate","year":2020,"score":-1.7},{"region":"Southeast","model":"AR(1)-Climate","year":2021,"score":-1.4},
{"region":"Southeast","model":"AR(1)","year":2015,"score":-1.6},{"region":"Southeast","model":"AR(1)","year":2016,"score":-1.4},{"region":"Southeast","model":"AR(1)","year":2017,"score":-2.4},{"region":"Southeast","model":"AR(1)","year":2018,"score":-2.97},{"region":"Southeast","model":"AR(1)","year":2019,"score":-1.1},{"region":"Southeast","model":"AR(1)","year":2020,"score":-1.86},{"region":"Southeast","model":"AR(1)","year":2021,"score":-1.45},
{"region":"Southeast","model":"NB-hex","year":2015,"score":-1.4},{"region":"Southeast","model":"NB-hex","year":2016,"score":-1.19},{"region":"Southeast","model":"NB-hex","year":2017,"score":-2.58},{"region":"Southeast","model":"NB-hex","year":2018,"score":-2.72},{"region":"Southeast","model":"NB-hex","year":2019,"score":-0.95},{"region":"Southeast","model":"NB-hex","year":2020,"score":-1.44},{"region":"Southeast","model":"NB-hex","year":2021,"score":-1.24},
{"region":"Southeast","model":"RF-season","year":2015,"score":-1.65},{"region":"Southeast","model":"RF-season","year":2016,"score":-1.4},{"region":"Southeast","model":"RF-season","year":2017,"score":-2.5},{"region":"Southeast","model":"RF-season","year":2018,"score":-2.65},{"region":"Southeast","model":"RF-season","year":2019,"score":-1.05},{"region":"Southeast","model":"RF-season","year":2020,"score":-1.55},{"region":"Southeast","model":"RF-season","year":2021,"score":-1.35},
{"region":"Southeast","model":"NN-season","year":2015,"score":-1.95},{"region":"Southeast","model":"NN-season","year":2016,"score":-1.55},{"region":"Southeast","model":"NN-season","year":2017,"score":-2.45},{"region":"Southeast","model":"NN-season","year":2018,"score":-2.6},{"region":"Southeast","model":"NN-season","year":2019,"score":-1.15},{"region":"Southeast","model":"NN-season","year":2020,"score":-1.6},{"region":"Southeast","model":"NN-season","year":2021,"score":-1.45},
{"region":"Southeast","model":"RF-month","year":2015,"score":-1.7},{"region":"Southeast","model":"RF-month","year":2016,"score":-1.45},{"region":"Southeast","model":"RF-month","year":2017,"score":-2.45},{"region":"Southeast","model":"RF-month","year":2018,"score":-2.6},{"region":"Southeast","model":"RF-month","year":2019,"score":-1.1},{"region":"Southeast","model":"RF-month","year":2020,"score":-1.6},{"region":"Southeast","model":"RF-month","year":2021,"score":-1.4},
{"region":"Southeast","model":"NN-month","year":2015,"score":-1.8},{"region":"Southeast","model":"NN-month","year":2016,"score":-1.55},{"region":"Southeast","model":"NN-month","year":2017,"score":-2.35},{"region":"Southeast","model":"NN-month","year":2018,"score":-2.51},{"region":"Southeast","model":"NN-month","year":2019,"score":-1.2},{"region":"Southeast","model":"NN-month","year":2020,"score":-1.65},{"region":"Southeast","model":"NN-month","year":2021,"score":-1.45},
{"region":"Southeast","model":"NB-nation","year":2015,"score":-1.83},{"region":"Southeast","model":"NB-nation","year":2016,"score":-1.6},{"region":"Southeast","model":"NB-nation","year":2017,"score":-2.5},{"region":"Southeast","model":"NB-nation","year":2018,"score":-2.7},{"region":"Southeast","model":"NB-nation","year":2019,"score":-1.36},{"region":"Southeast","model":"NB-nation","year":2020,"score":-1.7},{"region":"Southeast","model":"NB-nation","year":2021,"score":-1.62},
{"region":"Southeast","model":"Ensemble","year":2015,"score":-1.7},{"region":"Southeast","model":"Ensemble","year":2016,"score":-1.45},{"region":"Southeast","model":"Ensemble","year":2017,"score":-2.4},{"region":"Southeast","model":"Ensemble","year":2018,"score":-2.65},{"region":"Southeast","model":"Ensemble","year":2019,"score":-1.15},{"region":"Southeast","model":"Ensemble","year":2020,"score":-1.6},{"region":"Southeast","model":"Ensemble","year":2021,"score":-1.4}
]},
"spacing":5.5,
"resolve":{"legend":{"color":"independent"}},
"hconcat":[
{"spacing":6,"title":{"text":"mean logarithmic score per year","orient":"left","anchor":"middle","fontSize":15,"fontWeight":"normal","offset":4,"color":"#000"},
 "vconcat":[
 {"spacing":2,"bounds":"flush","vconcat":[
  {"width":125,"height":19,"view":{"fill":"#d9d9d9","stroke":null},"data":{"name":"d"},"transform":[{"filter":"datum.region==='Northwest' && datum.model==='Ensemble' && datum.year===2015"}],"mark":{"type":"text","fontSize":13,"color":"#1a1a1a"},"encoding":{"text":{"field":"region"}}},
  {"width":125,"height":198,"data":{"name":"d"},"transform":[{"filter":"datum.region==='Northwest'"}],
   "encoding":{"x":{"field":"year","type":"quantitative","scale":{"domain":[2014.7,2021.3],"nice":false,"zero":false},"axis":null},
    "y":{"field":"score","type":"quantitative","scale":{"domain":[-4.84,-0.18],"nice":false,"zero":false},"axis":{"values":[-1,-2,-3,-4],"labelExpr":"''+datum.value","title":null,"labelPadding":5}},
    "color":{"field":"model","type":"nominal","scale":{"domain":["NB-region","AR(1)-Climate","AR(1)","NB-hex","RF-season","NN-season","RF-month","NN-month","NB-nation","Ensemble"],"range":["#ee1f4f","#8b0000","#ff8c1a","#808000","#4cc04c","#33ccee","#21908c","#1a1a99","#a040d0","#000000"]},"legend":null}},
   "layer":[
    {"mark":{"type":"line","strokeWidth":1,"opacity":0.6}},
    {"transform":[{"filter":"datum.model==='NB-hex'"}],"mark":{"type":"line","strokeWidth":3}},
    {"transform":[{"filter":"datum.model==='NB-hex' && datum.year===2015"}],"mark":{"type":"text","align":"left","baseline":"middle","fontSize":11},"encoding":{"x":{"datum":2015},"y":{"datum":-4.6},"text":{"field":"model"}}}
   ]}
 ]},
 {"spacing":2,"bounds":"flush","vconcat":[
  {"width":125,"height":19,"view":{"fill":"#d9d9d9","stroke":null},"data":{"name":"d"},"transform":[{"filter":"datum.region==='West' && datum.model==='Ensemble' && datum.year===2015"}],"mark":{"type":"text","fontSize":13,"color":"#1a1a1a"},"encoding":{"text":{"field":"region"}}},
  {"width":125,"height":198,"data":{"name":"d"},"transform":[{"filter":"datum.region==='West'"}],
   "encoding":{"x":{"field":"year","type":"quantitative","scale":{"domain":[2014.7,2021.3],"nice":false,"zero":false},"axis":{"values":[2016,2018,2020],"format":"d","title":null,"labelPadding":2}},
    "y":{"field":"score","type":"quantitative","scale":{"domain":[-4.84,-0.18],"nice":false,"zero":false},"axis":{"values":[-1,-2,-3,-4],"labelExpr":"''+datum.value","title":null,"labelPadding":5}},
    "color":{"field":"model","type":"nominal","scale":{"domain":["NB-region","AR(1)-Climate","AR(1)","NB-hex","RF-season","NN-season","RF-month","NN-month","NB-nation","Ensemble"],"range":["#ee1f4f","#8b0000","#ff8c1a","#808000","#4cc04c","#33ccee","#21908c","#1a1a99","#a040d0","#000000"]},"legend":null}},
   "layer":[
    {"mark":{"type":"line","strokeWidth":1,"opacity":0.6}},
    {"transform":[{"filter":"datum.model==='AR(1)-Climate'"}],"mark":{"type":"line","strokeWidth":3}},
    {"transform":[{"filter":"datum.model==='AR(1)-Climate' && datum.year===2015"}],"mark":{"type":"text","align":"left","baseline":"middle","fontSize":11},"encoding":{"x":{"datum":2015},"y":{"datum":-4.6},"text":{"field":"model"}}}
   ]}
 ]}
]},
{"spacing":6,"vconcat":[
 {"spacing":2,"bounds":"flush","vconcat":[
  {"width":125,"height":19,"view":{"fill":"#d9d9d9","stroke":null},"data":{"name":"d"},"transform":[{"filter":"datum.region==='N Rockies & Plains' && datum.model==='Ensemble' && datum.year===2015"}],"mark":{"type":"text","fontSize":13,"color":"#1a1a1a"},"encoding":{"text":{"field":"region"}}},
  {"width":125,"height":198,"data":{"name":"d"},"transform":[{"filter":"datum.region==='N Rockies & Plains'"}],
   "encoding":{"x":{"field":"year","type":"quantitative","scale":{"domain":[2014.7,2021.3],"nice":false,"zero":false},"axis":null},
    "y":{"field":"score","type":"quantitative","scale":{"domain":[-4.84,-0.18],"nice":false,"zero":false},"axis":null},
    "color":{"field":"model","type":"nominal","scale":{"domain":["NB-region","AR(1)-Climate","AR(1)","NB-hex","RF-season","NN-season","RF-month","NN-month","NB-nation","Ensemble"],"range":["#ee1f4f","#8b0000","#ff8c1a","#808000","#4cc04c","#33ccee","#21908c","#1a1a99","#a040d0","#000000"]},"legend":null}},
   "layer":[
    {"mark":{"type":"line","strokeWidth":1,"opacity":0.6}},
    {"transform":[{"filter":"datum.model==='NB-region'"}],"mark":{"type":"line","strokeWidth":3}},
    {"transform":[{"filter":"datum.model==='NB-region' && datum.year===2015"}],"mark":{"type":"text","align":"left","baseline":"middle","fontSize":11},"encoding":{"x":{"datum":2015},"y":{"datum":-4.6},"text":{"field":"model"}}}
   ]}
 ]},
 {"spacing":2,"bounds":"flush","vconcat":[
  {"width":125,"height":19,"view":{"fill":"#d9d9d9","stroke":null},"data":{"name":"d"},"transform":[{"filter":"datum.region==='Southwest' && datum.model==='Ensemble' && datum.year===2015"}],"mark":{"type":"text","fontSize":13,"color":"#1a1a1a"},"encoding":{"text":{"field":"region"}}},
  {"width":125,"height":198,"data":{"name":"d"},"transform":[{"filter":"datum.region==='Southwest'"}],
   "encoding":{"x":{"field":"year","type":"quantitative","scale":{"domain":[2014.7,2021.3],"nice":false,"zero":false},"axis":{"values":[2016,2018,2020],"format":"d","title":null,"labelPadding":2}},
    "y":{"field":"score","type":"quantitative","scale":{"domain":[-4.84,-0.18],"nice":false,"zero":false},"axis":null},
    "color":{"field":"model","type":"nominal","scale":{"domain":["NB-region","AR(1)-Climate","AR(1)","NB-hex","RF-season","NN-season","RF-month","NN-month","NB-nation","Ensemble"],"range":["#ee1f4f","#8b0000","#ff8c1a","#808000","#4cc04c","#33ccee","#21908c","#1a1a99","#a040d0","#000000"]},"legend":null}},
   "layer":[
    {"mark":{"type":"line","strokeWidth":1,"opacity":0.6}},
    {"transform":[{"filter":"datum.model==='NB-region'"}],"mark":{"type":"line","strokeWidth":3}},
    {"transform":[{"filter":"datum.model==='NB-region' && datum.year===2015"}],"mark":{"type":"text","align":"left","baseline":"middle","fontSize":11},"encoding":{"x":{"datum":2015},"y":{"datum":-4.6},"text":{"field":"model"}}}
   ]}
 ]}
]},
{"spacing":6,"vconcat":[
 {"spacing":2,"bounds":"flush","vconcat":[
  {"width":125,"height":19,"view":{"fill":"#d9d9d9","stroke":null},"data":{"name":"d"},"transform":[{"filter":"datum.region==='Upper Midwest' && datum.model==='Ensemble' && datum.year===2015"}],"mark":{"type":"text","fontSize":13,"color":"#1a1a1a"},"encoding":{"text":{"field":"region"}}},
  {"width":125,"height":198,"data":{"name":"d"},"transform":[{"filter":"datum.region==='Upper Midwest'"}],
   "encoding":{"x":{"field":"year","type":"quantitative","scale":{"domain":[2014.7,2021.3],"nice":false,"zero":false},"axis":null},
    "y":{"field":"score","type":"quantitative","scale":{"domain":[-4.84,-0.18],"nice":false,"zero":false},"axis":null},
    "color":{"field":"model","type":"nominal","scale":{"domain":["NB-region","AR(1)-Climate","AR(1)","NB-hex","RF-season","NN-season","RF-month","NN-month","NB-nation","Ensemble"],"range":["#ee1f4f","#8b0000","#ff8c1a","#808000","#4cc04c","#33ccee","#21908c","#1a1a99","#a040d0","#000000"]},"legend":null}},
   "layer":[
    {"mark":{"type":"line","strokeWidth":1,"opacity":0.6}},
    {"transform":[{"filter":"datum.model==='NN-season'"}],"mark":{"type":"line","strokeWidth":3}},
    {"transform":[{"filter":"datum.model==='NN-season' && datum.year===2015"}],"mark":{"type":"text","align":"left","baseline":"middle","fontSize":11},"encoding":{"x":{"datum":2015},"y":{"datum":-4.6},"text":{"field":"model"}}}
   ]}
 ]},
 {"spacing":2,"bounds":"flush","vconcat":[
  {"width":125,"height":19,"view":{"fill":"#d9d9d9","stroke":null},"data":{"name":"d"},"transform":[{"filter":"datum.region==='South' && datum.model==='Ensemble' && datum.year===2015"}],"mark":{"type":"text","fontSize":13,"color":"#1a1a1a"},"encoding":{"text":{"field":"region"}}},
  {"width":125,"height":198,"data":{"name":"d"},"transform":[{"filter":"datum.region==='South'"}],
   "encoding":{"x":{"field":"year","type":"quantitative","scale":{"domain":[2014.7,2021.3],"nice":false,"zero":false},"axis":{"values":[2016,2018,2020],"format":"d","title":"year","labelPadding":2,"titlePadding":4}},
    "y":{"field":"score","type":"quantitative","scale":{"domain":[-4.84,-0.18],"nice":false,"zero":false},"axis":null},
    "color":{"field":"model","type":"nominal","scale":{"domain":["NB-region","AR(1)-Climate","AR(1)","NB-hex","RF-season","NN-season","RF-month","NN-month","NB-nation","Ensemble"],"range":["#ee1f4f","#8b0000","#ff8c1a","#808000","#4cc04c","#33ccee","#21908c","#1a1a99","#a040d0","#000000"]},"legend":null}},
   "layer":[
    {"mark":{"type":"line","strokeWidth":1,"opacity":0.6}},
    {"transform":[{"filter":"datum.model==='NB-region'"}],"mark":{"type":"line","strokeWidth":3}},
    {"transform":[{"filter":"datum.model==='NB-region' && datum.year===2015"}],"mark":{"type":"text","align":"left","baseline":"middle","fontSize":11},"encoding":{"x":{"datum":2015},"y":{"datum":-4.6},"text":{"field":"model"}}}
   ]}
 ]}
]},
{"spacing":6,"vconcat":[
 {"spacing":2,"bounds":"flush","vconcat":[
  {"width":125,"height":19,"view":{"fill":"#d9d9d9","stroke":null},"data":{"name":"d"},"transform":[{"filter":"datum.region==='Ohio Valley' && datum.model==='Ensemble' && datum.year===2015"}],"mark":{"type":"text","fontSize":13,"color":"#1a1a1a"},"encoding":{"text":{"field":"region"}}},
  {"width":125,"height":198,"data":{"name":"d"},"transform":[{"filter":"datum.region==='Ohio Valley'"}],
   "encoding":{"x":{"field":"year","type":"quantitative","scale":{"domain":[2014.7,2021.3],"nice":false,"zero":false},"axis":null},
    "y":{"field":"score","type":"quantitative","scale":{"domain":[-4.84,-0.18],"nice":false,"zero":false},"axis":null},
    "color":{"field":"model","type":"nominal","scale":{"domain":["NB-region","AR(1)-Climate","AR(1)","NB-hex","RF-season","NN-season","RF-month","NN-month","NB-nation","Ensemble"],"range":["#ee1f4f","#8b0000","#ff8c1a","#808000","#4cc04c","#33ccee","#21908c","#1a1a99","#a040d0","#000000"]},"legend":null}},
   "layer":[
    {"mark":{"type":"line","strokeWidth":1,"opacity":0.6}},
    {"transform":[{"filter":"datum.model==='NB-region'"}],"mark":{"type":"line","strokeWidth":3}},
    {"transform":[{"filter":"datum.model==='NB-region' && datum.year===2015"}],"mark":{"type":"text","align":"left","baseline":"middle","fontSize":11},"encoding":{"x":{"datum":2015},"y":{"datum":-4.6},"text":{"field":"model"}}}
   ]}
 ]},
 {"spacing":2,"bounds":"flush","vconcat":[
  {"width":125,"height":19,"view":{"fill":"#d9d9d9","stroke":null},"data":{"name":"d"},"transform":[{"filter":"datum.region==='Southeast' && datum.model==='Ensemble' && datum.year===2015"}],"mark":{"type":"text","fontSize":13,"color":"#1a1a1a"},"encoding":{"text":{"field":"region"}}},
  {"width":125,"height":198,"data":{"name":"d"},"transform":[{"filter":"datum.region==='Southeast'"}],
   "encoding":{"x":{"field":"year","type":"quantitative","scale":{"domain":[2014.7,2021.3],"nice":false,"zero":false},"axis":{"values":[2016,2018,2020],"format":"d","title":null,"labelPadding":2}},
    "y":{"field":"score","type":"quantitative","scale":{"domain":[-4.84,-0.18],"nice":false,"zero":false},"axis":null},
    "color":{"field":"model","type":"nominal","scale":{"domain":["NB-region","AR(1)-Climate","AR(1)","NB-hex","RF-season","NN-season","RF-month","NN-month","NB-nation","Ensemble"],"range":["#ee1f4f","#8b0000","#ff8c1a","#808000","#4cc04c","#33ccee","#21908c","#1a1a99","#a040d0","#000000"]},"legend":null}},
   "layer":[
    {"mark":{"type":"line","strokeWidth":1,"opacity":0.6}},
    {"transform":[{"filter":"datum.model==='NB-hex'"}],"mark":{"type":"line","strokeWidth":3}},
    {"transform":[{"filter":"datum.model==='NB-hex' && datum.year===2015"}],"mark":{"type":"text","align":"left","baseline":"middle","fontSize":11},"encoding":{"x":{"datum":2015},"y":{"datum":-4.6},"text":{"field":"model"}}}
   ]}
 ]}
]},
{"spacing":2,"bounds":"flush","resolve":{"legend":{"color":"independent"}},"vconcat":[
  {"width":125,"height":19,"view":{"fill":"#d9d9d9","stroke":null},"data":{"name":"d"},"transform":[{"filter":"datum.region==='Northeast' && datum.model==='Ensemble' && datum.year===2015"}],"mark":{"type":"text","fontSize":13,"color":"#1a1a1a"},"encoding":{"text":{"field":"region"}}},
  {"width":125,"height":198,"data":{"name":"d"},"transform":[{"filter":"datum.region==='Northeast'"}],
   "encoding":{"x":{"field":"year","type":"quantitative","scale":{"domain":[2014.7,2021.3],"nice":false,"zero":false},"axis":{"values":[2016,2018,2020],"format":"d","title":null,"labelPadding":2}},
    "y":{"field":"score","type":"quantitative","scale":{"domain":[-4.84,-0.18],"nice":false,"zero":false},"axis":null},
    "color":{"field":"model","type":"nominal","scale":{"domain":["NB-region","AR(1)-Climate","AR(1)","NB-hex","RF-season","NN-season","RF-month","NN-month","NB-nation","Ensemble"],"range":["#ee1f4f","#8b0000","#ff8c1a","#808000","#4cc04c","#33ccee","#21908c","#1a1a99","#a040d0","#000000"]},
     "legend":{"title":"Model","orient":"none","legendX":3,"legendY":227,"padding":0,"symbolType":"stroke","symbolSize":196,"symbolStrokeWidth":1.5,"symbolOpacity":1,"labelFontSize":13,"labelColor":"#000","titleFontSize":15,"titleFontWeight":"normal","titleColor":"#000","titlePadding":2,"rowPadding":0.4,"labelOffset":9}}},
   "layer":[
    {"mark":{"type":"line","strokeWidth":1,"opacity":0.6}},
    {"transform":[{"filter":"datum.model==='AR(1)-Climate'"}],"mark":{"type":"line","strokeWidth":3}},
    {"transform":[{"filter":"datum.model==='AR(1)-Climate' && datum.year===2015"}],"mark":{"type":"text","align":"left","baseline":"middle","fontSize":11},"encoding":{"x":{"datum":2015},"y":{"datum":-4.6},"text":{"field":"model"}}}
   ]}
]}
],
"config":{
 "font":"Liberation Sans",
 "view":{"stroke":"#000","strokeWidth":1.8},
 "axis":{"grid":false,"domain":false,"tickColor":"#333","tickSize":4,"tickWidth":1,"labelFontSize":13,"labelColor":"#333","titleFontSize":15,"titleFontWeight":"normal","titleColor":"#000"},
 "title":{"font":"Liberation Sans"}
}
}
